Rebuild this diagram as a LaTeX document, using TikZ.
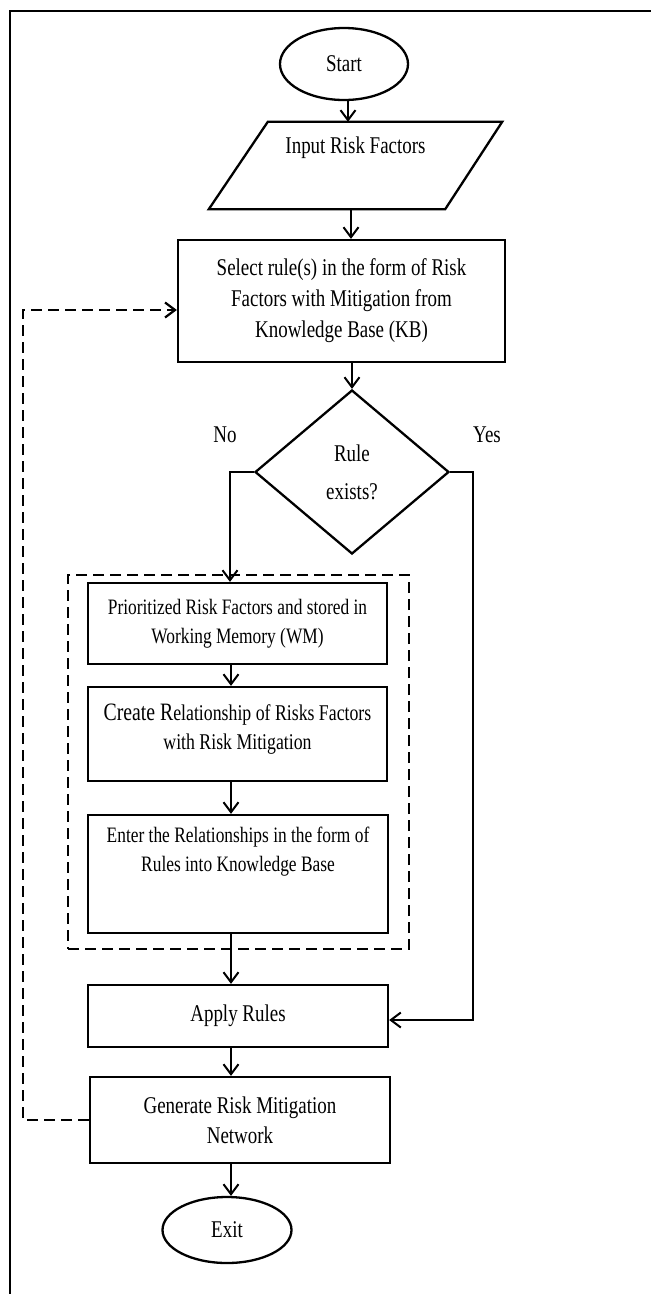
\documentclass[tikz,border=0pt]{standalone}
\usepackage{fontspec}
\setmainfont[FakeStretch=0.79]{Liberation Serif}
\usetikzlibrary{arrows.meta,shapes.geometric,calc}
\begin{document}
\begin{tikzpicture}[x=1pt,y=-1pt,
  every node/.style={font=\fontsize{24}{31}\selectfont},
  box/.style={draw, line width=2.3pt, rectangle, inner sep=0pt, align=center},
  term/.style={draw, line width=2.3pt, ellipse, inner sep=0pt},
  barb/.style={-{Straight Barb[length=10pt,width=15pt]}},
  arr/.style={line width=2pt, barb},
  dsh/.style={line width=2.2pt, dash pattern=on 11pt off 6pt},
  small/.style={font=\fontsize{22}{29}\selectfont, align=center}]
\useasboundingbox (0,0) rectangle (651,1294);
% outer frame
\draw[line width=2pt] (651,11) -- (9.5,11) -- (9.5,1294);
% nodes
\node[term, minimum width=128pt, minimum height=72pt] (start) at (344,64) {Start};
\node[minimum width=293pt, minimum height=87pt, inner sep=0pt] (inp) at (355.5,165.5) {};
\draw[line width=2.3pt] (inp.south west) -- ($(inp.south east)+(-57,0)$) -- (inp.north east) -- ($(inp.north west)+(59,0)$) -- cycle;
\node (inptxt) at (355.5,148) {Input Risk Factors};
\node[box, minimum width=327pt, minimum height=122pt] (sel) at (341.5,301) {Select rule(s) in the form of Risk\\Factors with Mitigation from\\Knowledge Base (KB)};
\node[diamond, draw, line width=2.3pt, inner sep=0pt, aspect=1.18, minimum width=194pt, minimum height=164pt, align=center] (dia) at (352,472) {Rule\\[7pt]exists?};
\node[anchor=base] (no) at (225,442) {No};
\node[anchor=base] (yes) at (487,442) {Yes};
\node[dsh, draw, minimum width=341pt, minimum height=374pt, inner sep=0pt] (grp) at (238.5,762) {};
\node[box, small, minimum width=299pt, minimum height=81pt] (prior) at (237.5,623.5) {Prioritized Risk Factors and stored in\\Working Memory (WM)};
\node[box, minimum width=299pt, minimum height=94pt] (create) at (237.5,734) {};
\node[font=\fontsize{22.5}{29}\selectfont, align=center] (createtxt) at (237.5,729) {{\fontsize{25}{29}\selectfont Create R}elationship of Risks Factors\\with Risk Mitigation};
\node[box, minimum width=300pt, minimum height=118pt] (enter) at (238,874) {};
\node[small] (entertxt) at (238,852) {Enter the Relationships in the form of\\Rules into Knowledge Base};
\node[box, minimum width=300pt, minimum height=62pt] (apply) at (238,1016) {Apply Rules};
\node[box, minimum width=300pt, minimum height=86pt, font=\fontsize{24}{30}\selectfont] (gen) at (240,1120) {Generate Risk Mitigation\\Network};
\node[term, minimum width=129pt, minimum height=66pt] (exit) at (227,1230) {Exit};
% helper coordinates
\coordinate (c1) at (348,0);
\coordinate (c2) at (351,0);
\coordinate (col) at (231,0);
\coordinate (nturn) at (230,472);
\coordinate (yturn) at (473,472);
\coordinate (fbtop) at (23,310);
% connectors
\draw[arr] (start.south -| c1) -- (inp.north -| c1);
\draw[arr] (inp.south -| c2) -- (sel.north -| c2);
\draw[arr] (sel.south -| dia) -- (dia.north);
\draw[arr] (dia.west) -- (nturn) -- (nturn |- prior.north);
\draw[arr] (dia.east) -- (yturn) |- ($(apply.east)+(0,4)$);
\draw[arr] (prior.south -| col) -- (create.north -| col);
\draw[arr] (create.south -| col) -- (enter.north -| col);
\draw[arr] (enter.south -| col) -- (apply.north -| col);
\draw[arr] (apply.south -| col) -- (gen.north -| col);
\draw[arr] (gen.south -| col) -- (exit.north -| col);
\draw[dsh, barb] (gen.west) -| (fbtop) -- (fbtop -| sel.west);
\end{tikzpicture}
\end{document}
